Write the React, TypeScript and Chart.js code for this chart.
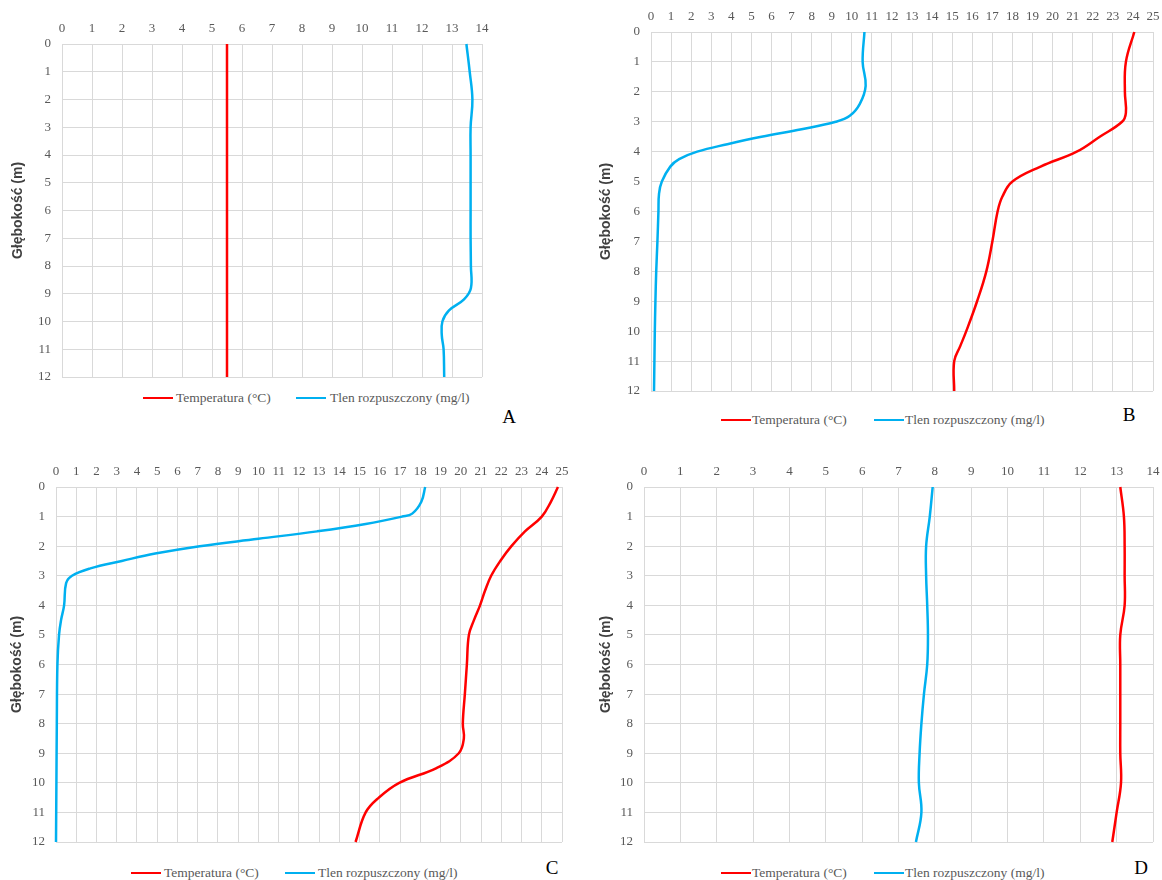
import React, { useEffect, useRef } from "react";
import { Chart, registerables } from "chart.js";

Chart.register(...registerables);

// ---------- DATA ----------
const depthTempA = [0, 1, 2, 3, 4, 5, 6, 7, 8, 9, 10, 11, 12];
const tempA = [5.5, 5.5, 5.5, 5.5, 5.5, 5.5, 5.5, 5.5, 5.5, 5.5, 5.5, 5.5, 5.5];
const depthOxyA = [0, 1, 2, 3, 4, 5, 6, 7, 8, 8.8, 9.2, 9.6, 10, 10.5, 11, 12];
const oxyA = [13.48, 13.59, 13.68, 13.62, 13.62, 13.62, 13.62, 13.62, 13.63, 13.63, 13.4, 12.9, 12.68, 12.66, 12.72, 12.74];

const depthTempB = [0, 1, 2, 2.7, 3, 3.5, 4, 4.5, 5, 5.5, 6, 7, 8, 9, 10, 10.5, 11, 12];
const tempB = [24.07, 23.65, 23.6, 23.65, 23.46, 22.35, 21.2, 19.4, 18.0, 17.5, 17.26, 17.0, 16.7, 16.24, 15.7, 15.4, 15.1, 15.1];
const depthOxyB = [0, 1, 1.8, 2.4, 2.8, 3, 3.25, 3.5, 3.75, 4, 4.25, 4.5, 5, 5.4, 6, 7, 8, 9, 10, 11, 12];
const oxyB = [10.63, 10.54, 10.69, 10.4, 9.9, 9.2, 7.5, 5.5, 3.8, 2.3, 1.4, 0.96, 0.54, 0.4, 0.37, 0.32, 0.26, 0.22, 0.19, 0.17, 0.15];

const depthTempC = [0, 0.5, 1, 1.5, 2, 2.5, 3, 3.5, 4, 4.5, 5, 6, 7, 8, 8.5, 9, 9.5, 10, 10.5, 11, 12];
const tempC = [24.8, 24.45, 24.0, 23.17, 22.5, 21.95, 21.5, 21.2, 20.95, 20.65, 20.4, 20.3, 20.2, 20.1, 20.15, 19.9, 18.8, 16.96, 15.95, 15.3, 14.8];
const depthOxyC = [0, 0.5, 0.9, 1, 1.25, 1.5, 1.75, 2, 2.25, 2.5, 2.75, 3, 3.25, 4, 4.5, 5, 6, 8, 10, 12];
const oxyC = [18.24, 18.05, 17.6, 17.1, 15.3, 12.9, 10.0, 7.1, 4.9, 3.25, 1.7, 0.79, 0.5, 0.4, 0.25, 0.15, 0.07, 0.04, 0.02, 0];

const depthTempD = [0, 1, 2, 3, 4, 5, 6, 7, 8, 9, 10, 11, 12];
const tempD = [13.1, 13.2, 13.22, 13.22, 13.22, 13.1, 13.1, 13.1, 13.1, 13.1, 13.12, 13.0, 12.88];
const depthOxyD = [0, 1, 2, 3, 4, 5, 6, 7, 8, 9, 10, 11, 12];
const oxyD = [7.94, 7.86, 7.76, 7.76, 7.79, 7.81, 7.79, 7.7, 7.63, 7.58, 7.56, 7.63, 7.48];

const seriesLabels = ["Temperatura (°C)", "Tlen rozpuszczony (mg/l)"];
const yTitle = "Głębokość (m)";
const panelLetters = ["A", "B", "C", "D"];
const xMaxes = [14, 25, 25, 14];
const depthMax = 12;

// ---------- STYLE / LAYOUT ----------
const RED = "#ff0000";
const BLUE = "#00b0f0";
const GRID = "#d9d9d9";
const TICK = "#595959";
const SERIF = "'Liberation Serif', 'Times New Roman', serif";
const SANS = "'Liberation Sans', Arial, sans-serif";

type Layout = {
  L: number; T: number; R: number; B: number;
  canvasLeft: number; titlePad: number; padR: number;
  legendY: number; leg: number[]; letterX: number; letterY: number;
};

const layouts: Layout[] = [
  { L: 62, T: 44, R: 482, B: 377, canvasLeft: 0, titlePad: 9.6, padR: 14, legendY: 398, leg: [143, 176, 296, 330], letterX: 509, letterY: 417 },
  { L: 651, T: 32, R: 1153, B: 391, canvasLeft: 589, titlePad: 8.6, padR: 9, legendY: 420, leg: [721, 752, 874, 905], letterX: 1129, letterY: 415 },
  { L: 56, T: 487, R: 562, B: 842, canvasLeft: 0, titlePad: 8.3, padR: 14, legendY: 873, leg: [131, 164, 285, 318], letterX: 552, letterY: 868 },
  { L: 644, T: 487, R: 1153, B: 842, canvasLeft: 582, titlePad: 15.6, padR: 9, legendY: 873, leg: [721, 752, 874, 905], letterX: 1141, letterY: 868 },
];

const panelData = [
  { dt: depthTempA, t: tempA, dox: depthOxyA, ox: oxyA },
  { dt: depthTempB, t: tempB, dox: depthOxyB, ox: oxyB },
  { dt: depthTempC, t: tempC, dox: depthOxyC, ox: oxyC },
  { dt: depthTempD, t: tempD, dox: depthOxyD, ox: oxyD },
];

const X_AXIS_H = 30;
const PAD_B = 12;

function Panel({ idx }: { idx: number }) {
  const ref = useRef<HTMLCanvasElement | null>(null);
  const lay = layouts[idx];
  const canvasTop = lay.T - X_AXIS_H;
  const yAxisW = lay.L - lay.canvasLeft;
  const cw = lay.R - lay.canvasLeft + lay.padR;
  const ch = lay.B - canvasTop + PAD_B;

  useEffect(() => {
    if (!ref.current) return;
    const d = panelData[idx];
    const tempPts = d.dt.map((y, i) => ({ x: d.t[i], y }));
    const oxyPts = d.dox.map((y, i) => ({ x: d.ox[i], y }));
    const chart = new Chart(ref.current, {
      type: "scatter",
      data: {
        datasets: [
          {
            label: seriesLabels[0],
            data: tempPts,
            showLine: true,
            borderColor: RED,
            backgroundColor: RED,
            borderWidth: 2.5,
            pointRadius: 0,
            tension: 0.4,
            clip: false as any,
          },
          {
            label: seriesLabels[1],
            data: oxyPts,
            showLine: true,
            borderColor: BLUE,
            backgroundColor: BLUE,
            borderWidth: 2.5,
            pointRadius: 0,
            tension: 0.4,
            clip: false as any,
          },
        ],
      },
      options: {
        animation: false,
        responsive: false,
        devicePixelRatio: 1,
        layout: { padding: { left: 0, top: 0, right: lay.padR, bottom: PAD_B }, autoPadding: false },
        plugins: { legend: { display: false }, tooltip: { enabled: false } },
        events: [],
        scales: {
          x: {
            type: "linear",
            position: "top",
            min: 0,
            max: xMaxes[idx],
            ticks: {
              stepSize: 1,
              padding: 8,
              color: TICK,
              font: { family: SERIF, size: 13 },
              maxRotation: 0,
              autoSkip: false,
            },
            grid: { color: GRID, lineWidth: 1, drawTicks: false },
            border: { display: true, color: GRID },
            afterFit: (s: any) => {
              s.height = X_AXIS_H;
              s.paddingLeft = 0;
              s.paddingRight = 0;
            },
          },
          y: {
            type: "linear",
            position: "left",
            reverse: true,
            min: 0,
            max: depthMax,
            ticks: {
              stepSize: 1,
              padding: 11,
              color: TICK,
              font: { family: SERIF, size: 13 },
              autoSkip: false,
            },
            grid: { color: GRID, lineWidth: 1, drawTicks: false },
            border: { display: true, color: GRID },
            title: {
              display: true,
              text: yTitle,
              color: "#404040",
              font: { family: SANS, size: 14, weight: "bold" },
              padding: { top: lay.titlePad, bottom: 0 },
            },
            afterFit: (s: any) => {
              s.width = yAxisW;
              s.paddingTop = 0;
              s.paddingBottom = 0;
            },
          },
        },
      } as any,
    });
    return () => chart.destroy();
  }, [idx]);

  const legendText: React.CSSProperties = {
    position: "absolute",
    fontFamily: SERIF,
    fontSize: 13.5,
    color: TICK,
    lineHeight: "16px",
    top: lay.legendY - 8,
    whiteSpace: "nowrap",
  };
  const legendLine = (x: number, color: string): React.CSSProperties => ({
    position: "absolute",
    left: x,
    top: lay.legendY - 1.25,
    width: 30,
    height: 2.5,
    background: color,
  });

  return (
    <>
      <canvas
        ref={ref}
        width={cw}
        height={ch}
        style={{ position: "absolute", left: lay.canvasLeft, top: canvasTop, width: cw, height: ch }}
      />
      <div style={legendLine(lay.leg[0], RED)} />
      <div style={{ ...legendText, left: lay.leg[1] }}>{seriesLabels[0]}</div>
      <div style={legendLine(lay.leg[2], BLUE)} />
      <div style={{ ...legendText, left: lay.leg[3] }}>{seriesLabels[1]}</div>
      <div
        style={{
          position: "absolute",
          left: lay.letterX - 15,
          width: 30,
          textAlign: "center",
          top: lay.letterY - 11,
          lineHeight: "22px",
          fontFamily: SERIF,
          fontSize: 19,
          color: "#000",
        }}
      >
        {panelLetters[idx]}
      </div>
    </>
  );
}

export default function App() {
  return (
    <div
      style={{
        position: "absolute",
        left: 0,
        top: 0,
        width: 1162,
        height: 880,
        overflow: "hidden",
        background: "#fff",
      }}
    >
      {[0, 1, 2, 3].map((i) => (
        <Panel key={i} idx={i} />
      ))}
    </div>
  );
}
